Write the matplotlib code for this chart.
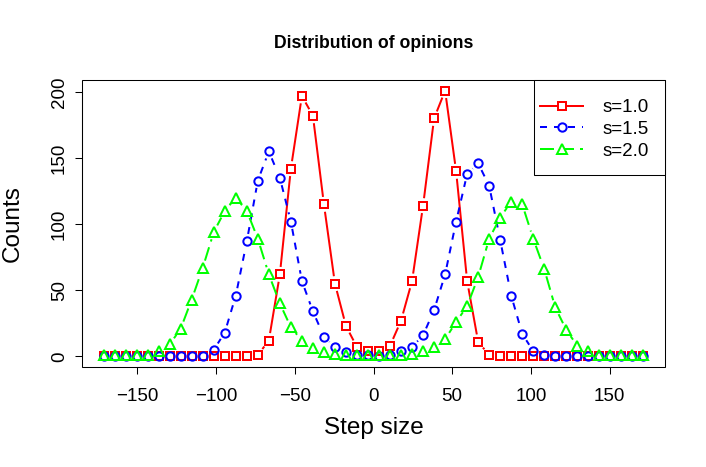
import numpy as np
import matplotlib
matplotlib.use("Agg")
import matplotlib.pyplot as plt
from matplotlib.collections import LineCollection
from matplotlib.lines import Line2D

plt.rcParams["font.family"] = ["Liberation Sans", "DejaVu Sans"]

# bin centres of the step-size histogram
step = np.arange(-171.5, 172, 7.0)

counts_s10 = [0, 0, 0, 0, 0, 0, 0, 0, 0, 0, 0, 0, 0, 0, 1, 12, 62, 142, 197, 182,
              115, 55, 23, 7, 4, 4, 8, 27, 57, 114, 180, 201, 140, 57, 11, 1, 0, 0, 0, 0,
              0, 0, 0, 0, 0, 0, 0, 0, 0, 0]
counts_s15 = [0, 0, 0, 0, 0, 0, 0, 0, 0, 0, 5, 18, 46, 87, 133, 155, 135, 102, 57, 34,
              15, 7, 3, 1, 1, 0, 1, 4, 7, 16, 35, 62, 102, 138, 146, 129, 88, 46, 17, 4,
              1, 0, 0, 0, 0, 0, 0, 0, 0, 0]
counts_s20 = [1, 1, 1, 1, 1, 4, 9, 21, 43, 67, 94, 110, 120, 110, 89, 62, 40, 22, 12, 6,
              3, 2, 1, 1, 1, 1, 1, 1, 2, 4, 7, 13, 26, 38, 60, 89, 105, 117, 115, 89,
              66, 37, 20, 8, 4, 1, 1, 1, 1, 1]

series = [
    ("s=1.0", counts_s10, "#FF0000", "-", "s", 5.2),
    ("s=1.5", counts_s15, "#0000FF", (0, (3.5, 3.5)), "o", 6.0),
    ("s=2.0", counts_s20, "#00FF00", (0, (7, 3)), "^", 7.5),
]

LW = 1.44
GAP = 7.5  # px between a point and its connecting line (R type="b")

fig = plt.figure(figsize=(7.06, 4.67), dpi=100)
ax = fig.add_axes((82 / 706, 1 - 367 / 467, 583 / 706, 287 / 467))

xr = step.max() - step.min()
ax.set_xlim(step.min() - 0.04 * xr, step.max() + 0.04 * xr)
ax.set_ylim(-0.04 * 201, 201 * 1.04)


def gapped(ax, x, y, gap):
    pts = ax.transData.transform(np.column_stack([x, y]))
    inv = ax.transData.inverted()
    segs = []
    for p0, p1 in zip(pts[:-1], pts[1:]):
        d = p1 - p0
        length = np.hypot(*d)
        if length <= 2 * gap:
            continue
        u = d / length
        segs.append(inv.transform(np.array([p0 + u * gap, p1 - u * gap])))
    return segs


handles = []
for label, vals, color, ls, mk, ms in series:
    lc = LineCollection(gapped(ax, step, vals, GAP), colors=color,
                        linewidths=LW, linestyles=[ls], capstyle="butt")
    ax.add_collection(lc)
    ax.plot(step, vals, linestyle="none", marker=mk, markersize=ms,
            markerfacecolor="none", markeredgecolor=color, markeredgewidth=LW)
    handles.append(Line2D([], [], color=color, linestyle=ls, linewidth=LW,
                          marker=mk, markersize=ms, markerfacecolor="white",
                          markeredgecolor=color, markeredgewidth=LW, label=label))

ax.set_xticks([-150, -100, -50, 0, 50, 100, 150])
ax.set_xticklabels(["\u2212150", "\u2212100", "\u221250", "0", "50", "100", "150"])
ax.set_yticks([0, 50, 100, 150, 200])
ax.tick_params(axis="both", labelsize=13.5, length=5, width=0.75, direction="out")
ax.tick_params(axis="x", pad=10)
ax.tick_params(axis="y", pad=5)
for lab in ax.get_yticklabels():
    lab.set_rotation(90)
    lab.set_va("center")
for sp in ax.spines.values():
    sp.set_linewidth(0.75)
ax.spines["left"].set_bounds(0, 200)
ax.spines["bottom"].set_bounds(-150, 150)
for sp in ("top", "right"):
    ax.spines[sp].set_visible(False)

# full plot box like R's box()
ax.add_patch(plt.Rectangle((0, 0), 1, 1, transform=ax.transAxes, fill=False,
                           linewidth=0.75, edgecolor="black", clip_on=False))

# legend entries without matplotlib's frame, R-style box drawn separately
leg = fig.legend(handles=handles, loc="upper left",
                 bbox_to_anchor=(540 / 706, 1 - 99 / 467), borderaxespad=0,
                 fontsize=13.5, handlelength=2.3, handletextpad=1.05,
                 labelspacing=0.25, borderpad=0, frameon=False)
fig.add_artist(plt.Rectangle((534 / 706, 1 - 175 / 467), 131 / 706, 95 / 467,
                             transform=fig.transFigure, fill=True,
                             facecolor="white", linewidth=0.75,
                             edgecolor="black", zorder=2))
leg.set_zorder(3)

fig.text(373.5 / 706, 1 - 43 / 467, "Distribution of opinions",
         ha="center", va="center", fontsize=12.7, fontweight="bold")
fig.text(373.5 / 706, 1 - 428 / 467, "Step size", ha="center", va="center",
         fontsize=17.5)
fig.text(13 / 706, 1 - 223.5 / 467, "Counts", ha="center", va="center",
         rotation=90, fontsize=17.5)

fig.savefig("out.png", dpi=100)
